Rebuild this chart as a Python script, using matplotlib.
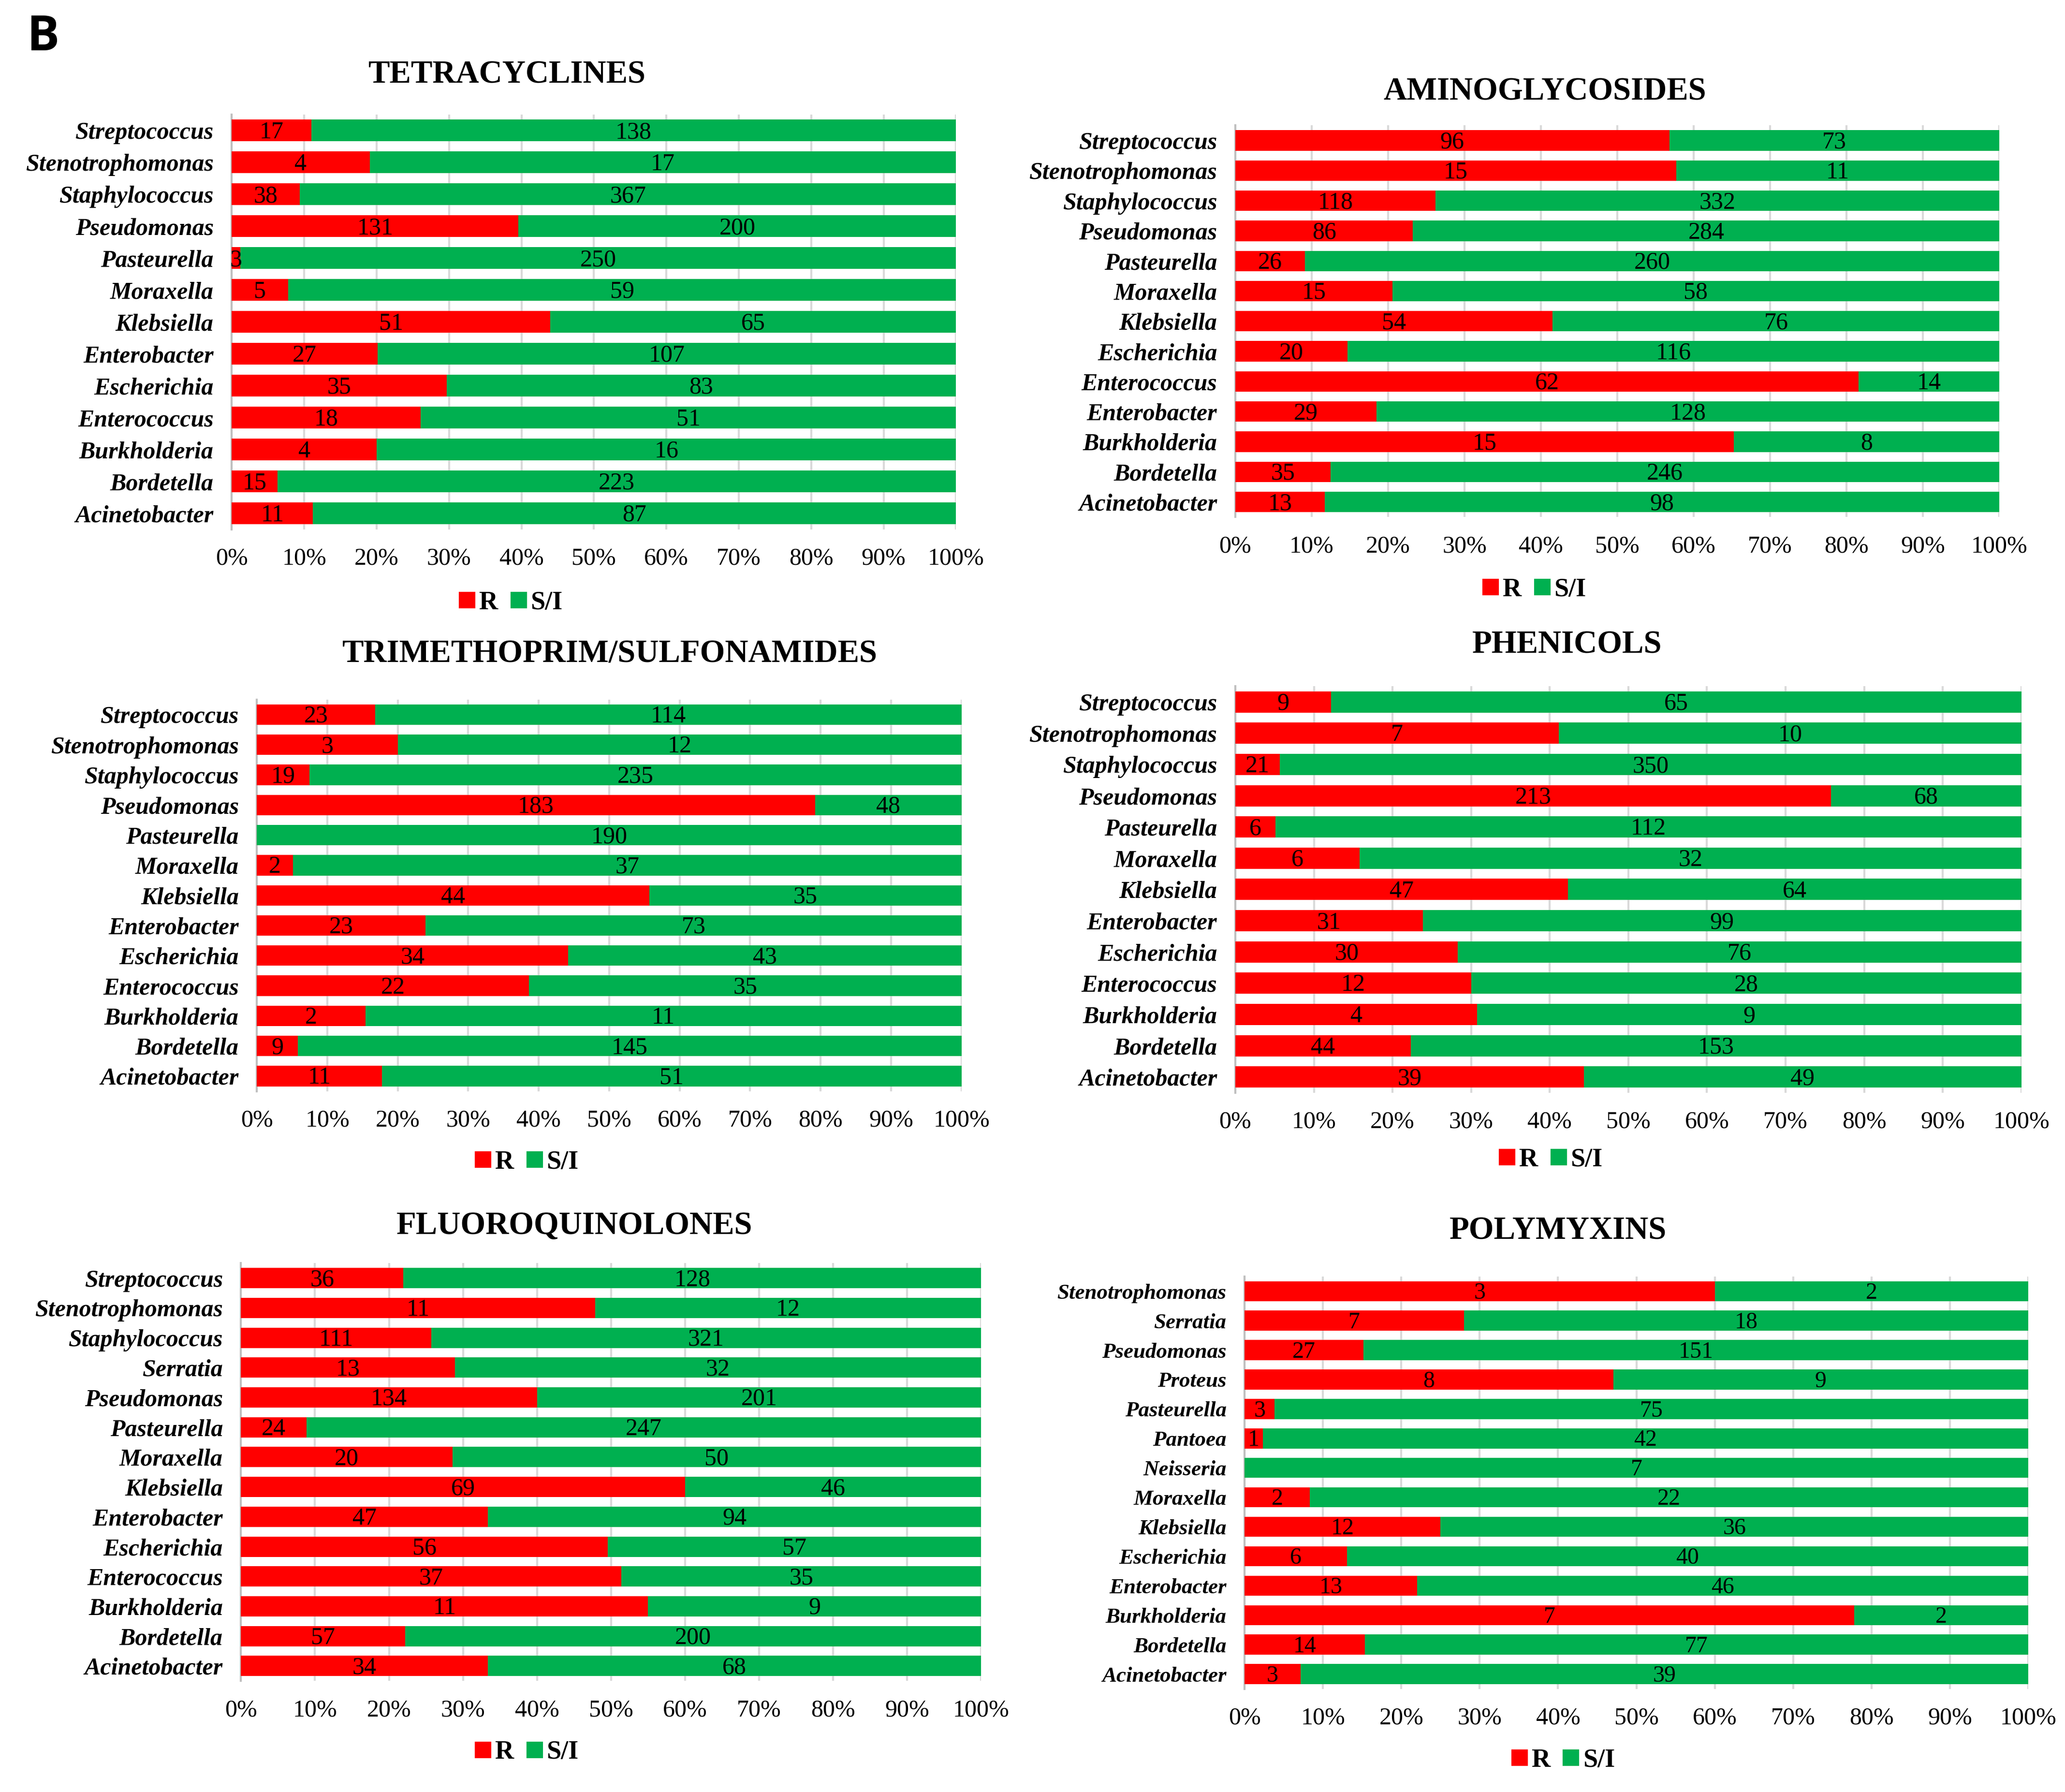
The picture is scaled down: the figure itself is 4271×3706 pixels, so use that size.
import matplotlib
matplotlib.use("Agg")
import matplotlib.pyplot as plt
from matplotlib.lines import Line2D
import numpy as np

# ---------------- data (top -> bottom as displayed) ----------------
tet_cats = ["Streptococcus", "Stenotrophomonas", "Staphylococcus", "Pseudomonas", "Pasteurella",
            "Moraxella", "Klebsiella", "Enterobacter", "Escherichia", "Enterococcus",
            "Burkholderia", "Bordetella", "Acinetobacter"]
tet_R = [17, 4, 38, 131, 3, 5, 51, 27, 35, 18, 4, 15, 11]
tet_S = [138, 17, 367, 200, 250, 59, 65, 107, 83, 51, 16, 223, 87]

ami_cats = ["Streptococcus", "Stenotrophomonas", "Staphylococcus", "Pseudomonas", "Pasteurella",
            "Moraxella", "Klebsiella", "Escherichia", "Enterococcus", "Enterobacter",
            "Burkholderia", "Bordetella", "Acinetobacter"]
ami_R = [96, 15, 118, 86, 26, 15, 54, 20, 62, 29, 15, 35, 13]
ami_S = [73, 11, 332, 284, 260, 58, 76, 116, 14, 128, 8, 246, 98]

tmp_cats = ["Streptococcus", "Stenotrophomonas", "Staphylococcus", "Pseudomonas", "Pasteurella",
            "Moraxella", "Klebsiella", "Enterobacter", "Escherichia", "Enterococcus",
            "Burkholderia", "Bordetella", "Acinetobacter"]
tmp_R = [23, 3, 19, 183, 0, 2, 44, 23, 34, 22, 2, 9, 11]
tmp_S = [114, 12, 235, 48, 190, 37, 35, 73, 43, 35, 11, 145, 51]

phe_cats = ["Streptococcus", "Stenotrophomonas", "Staphylococcus", "Pseudomonas", "Pasteurella",
            "Moraxella", "Klebsiella", "Enterobacter", "Escherichia", "Enterococcus",
            "Burkholderia", "Bordetella", "Acinetobacter"]
phe_R = [9, 7, 21, 213, 6, 6, 47, 31, 30, 12, 4, 44, 39]
phe_S = [65, 10, 350, 68, 112, 32, 64, 99, 76, 28, 9, 153, 49]

flu_cats = ["Streptococcus", "Stenotrophomonas", "Staphylococcus", "Serratia", "Pseudomonas",
            "Pasteurella", "Moraxella", "Klebsiella", "Enterobacter", "Escherichia",
            "Enterococcus", "Burkholderia", "Bordetella", "Acinetobacter"]
flu_R = [36, 11, 111, 13, 134, 24, 20, 69, 47, 56, 37, 11, 57, 34]
flu_S = [128, 12, 321, 32, 201, 247, 50, 46, 94, 57, 35, 9, 200, 68]

pol_cats = ["Stenotrophomonas", "Serratia", "Pseudomonas", "Proteus", "Pasteurella", "Pantoea",
            "Neisseria", "Moraxella", "Klebsiella", "Escherichia", "Enterobacter",
            "Burkholderia", "Bordetella", "Acinetobacter"]
pol_R = [3, 7, 27, 8, 3, 1, 0, 2, 12, 6, 13, 7, 14, 3]
pol_S = [2, 18, 151, 9, 75, 42, 7, 22, 36, 40, 46, 2, 77, 39]

x_ticks = [0, 10, 20, 30, 40, 50, 60, 70, 80, 90, 100]
x_ticklabels = ["0%", "10%", "20%", "30%", "40%", "50%", "60%", "70%", "80%", "90%", "100%"]
legend_labels = ["R", "S/I"]

RED = "#FF0000"
GREEN = "#00B050"
SERIF = "Liberation Serif"
plt.rcParams["font.family"] = [SERIF, "DejaVu Serif"]

W, H = 4271, 3706
fig = plt.figure(figsize=(W / 300, H / 300), dpi=300)


def panel(rect, cats, R, S, title, title_xy, legend_xy, lab_size=12, val_size=12):
    ax = fig.add_axes(rect)
    R = np.array(R, dtype=float)
    S = np.array(S, dtype=float)
    tot = R + S
    rp = R / tot * 100
    sp = S / tot * 100
    y = np.arange(len(cats))
    ax.barh(y, rp, height=0.68, color=RED, zorder=3)
    ax.barh(y, sp, left=rp, height=0.68, color=GREEN, zorder=3)
    for i in range(len(cats)):
        if R[i] > 0:
            ax.text(rp[i] / 2, y[i] + 0.06, f"{int(R[i])}", ha="center", va="center",
                    fontsize=val_size, family=SERIF, color="black", zorder=4)
        if S[i] > 0:
            ax.text(rp[i] + sp[i] / 2, y[i] + 0.06, f"{int(S[i])}", ha="center", va="center",
                    fontsize=val_size, family=SERIF, color="black", zorder=4)
    ax.set_ylim(len(cats) - 0.5, -0.5)
    ax.set_xlim(0, 100)
    ax.set_yticks(y)
    ax.set_yticklabels(cats, fontsize=lab_size, family=SERIF, fontweight="bold", fontstyle="italic")
    ax.set_xticks(x_ticks)
    ax.set_xticklabels(x_ticklabels, fontsize=12, family=SERIF)
    ax.tick_params(axis="both", length=0)
    ax.tick_params(axis="x", pad=9)
    ax.tick_params(axis="y", pad=9)
    ax.grid(axis="x", color="#D9D9D9", linewidth=1.0, zorder=0)
    ax.set_axisbelow(True)
    for sp_name in ["top", "right", "bottom"]:
        ax.spines[sp_name].set_visible(False)
    ax.spines["left"].set_color("#BFBFBF")
    ax.spines["left"].set_linewidth(1.0)
    fig.text(title_xy[0], title_xy[1], title, ha="center", va="center",
             fontsize=16, family=SERIF, fontweight="bold")
    handles = [Line2D([], [], marker="s", linestyle="", color=RED, markersize=7),
               Line2D([], [], marker="s", linestyle="", color=GREEN, markersize=7)]
    fig.legend(handles, legend_labels, loc="center", bbox_to_anchor=legend_xy,
               ncol=2, frameon=False, handlelength=0.6, handletextpad=0.15,
               columnspacing=0.5, prop={"family": SERIF, "weight": "bold", "size": 13})
    return ax


# figure coordinates derived from the layout of the reference
panel([0.1122, 0.7046, 0.3508, 0.2315], tet_cats, tet_R, tet_S, "TETRACYCLINES",
      (0.2455, 0.9581), (0.2474, 0.6635))
panel([0.5982, 0.7115, 0.3700, 0.2185], ami_cats, ami_R, ami_S, "AMINOGLYCOSIDES",
      (0.7481, 0.9486), (0.7430, 0.6708))
panel([0.1244, 0.3911, 0.3412, 0.2185], tmp_cats, tmp_R, tmp_S, "TRIMETHOPRIM/SULFONAMIDES",
      (0.2953, 0.6348), (0.2551, 0.3512))
panel([0.5982, 0.3903, 0.3807, 0.2267], phe_cats, phe_R, phe_S, "PHENICOLS",
      (0.7589, 0.6400), (0.7510, 0.3527))
panel([0.1167, 0.0620, 0.3584, 0.2331], flu_cats, flu_R, flu_S, "FLUOROQUINOLONES",
      (0.2781, 0.3159), (0.2551, 0.0220))
panel([0.6027, 0.0576, 0.3795, 0.2301], pol_cats, pol_R, pol_S, "POLYMYXINS",
      (0.7545, 0.3130), (0.7570, 0.0176), lab_size=10.8, val_size=11.5)

fig.text(0.021, 0.979, "B", ha="center", va="center", fontsize=24,
         family="Open Sans", fontweight="bold")

fig.savefig("out.png", dpi=300)
